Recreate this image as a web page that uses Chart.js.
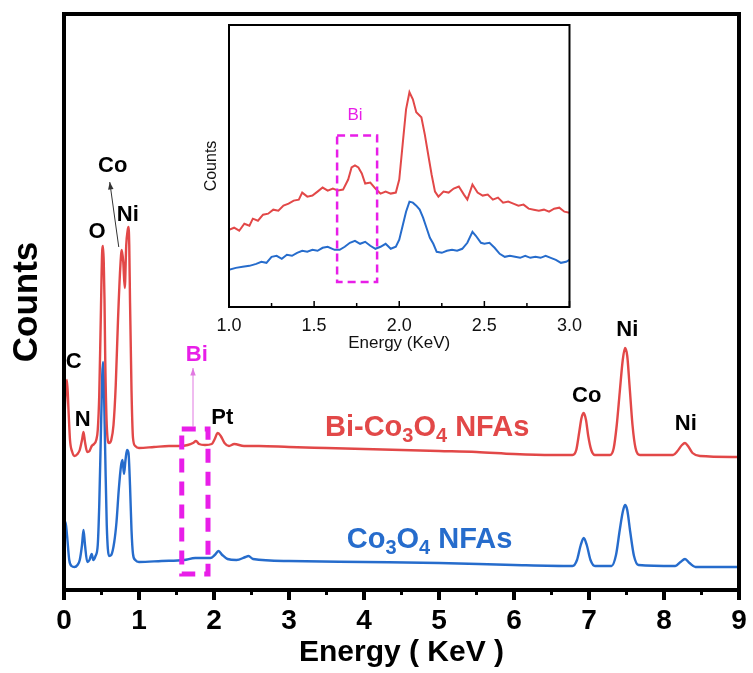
<!DOCTYPE html>
<html>
<head>
<meta charset="utf-8">
<script src="https://cdn.jsdelivr.net/npm/chart.js@4.4.0/dist/chart.umd.min.js"></script>
<style>
  body { margin: 0; background: #fff; }
  #wrap { position: relative; width: 753px; height: 673px; }
  #mainChart { position: absolute; left: 0; top: 0; }
  #insetChart { position: absolute; left: 190px; top: 0; }
</style>
</head>
<body>
<div id="wrap">
  <canvas id="mainChart" width="753" height="673"></canvas>
  <canvas id="insetChart" width="400" height="370"></canvas>
</div>
<script>
// ---- main spectrum (0-9 keV), counts in arbitrary units ----
const energyRed = [0.00,0.02,0.04,0.06,0.08,0.11,0.14,0.18,0.21,0.24,0.26,0.28,0.31,0.34,0.37,0.40,0.43,0.45,0.47,0.49,
  0.51,0.52,0.53,0.54,0.55,0.57,0.60,0.63,0.66,0.69,0.72,0.75,0.77,0.79,0.81,0.83,0.85,0.86,0.87,0.88,
  0.90,0.92,0.95,1.00,1.20,1.40,1.55,1.65,1.72,1.76,1.80,1.88,1.97,2.01,2.05,2.09,2.14,2.20,2.27,2.40,
  2.60,3.00,3.50,4.00,4.50,5.00,5.50,6.00,6.50,6.78,6.83,6.87,6.90,6.93,6.96,6.99,7.03,7.08,7.28,7.33,
  7.37,7.41,7.45,7.48,7.51,7.54,7.58,7.62,7.68,8.12,8.18,8.24,8.28,8.32,8.38,8.48,9.00];
const countsRed = [160,195,210,180,150,138,134,136,140,150,158,148,138,139,144,146,150,160,195,270,
  340,344,328,290,230,165,147,150,165,205,270,322,340,328,302,345,360,363,345,290,
  200,152,144,142,143,144,144,145,147,149,146,145,146,151,157,154,147,144,146,144,
  144,143,142,141,140,139,138,136,135,135,140,158,172,177,170,154,140,135,135,142,
  165,198,230,242,234,205,165,142,135,135,139,145,147,144,137,134,133];

const energyBlue = [0.00,0.02,0.04,0.07,0.10,0.14,0.18,0.21,0.24,0.26,0.28,0.31,0.34,0.37,0.39,0.42,0.45,0.47,0.49,0.51,
  0.52,0.53,0.55,0.57,0.60,0.63,0.67,0.70,0.73,0.76,0.78,0.80,0.82,0.84,0.86,0.88,0.90,0.92,0.95,1.00,
  1.30,1.60,1.75,1.95,2.01,2.06,2.11,2.18,2.30,2.42,2.46,2.52,3.00,4.00,5.00,6.00,6.78,6.84,6.89,6.93,
  6.97,7.02,7.08,7.30,7.36,7.41,7.45,7.48,7.51,7.55,7.60,7.66,8.15,8.22,8.28,8.34,8.42,9.00];
const countsBlue = [45,68,55,30,24,23,25,30,45,60,45,28,30,36,30,34,45,85,150,215,
  228,212,135,65,34,35,48,68,100,124,130,116,130,140,137,105,60,36,30,28,
  29,30,32,32,35,39,35,31,30,33,34,31,29,28,27,25,24,30,45,52,
  45,30,24,24,35,60,78,85,80,58,34,25,24,28,31,27,23,23];

const xTicks = [0, 1, 2, 3, 4, 5, 6, 7, 8, 9];

// peak labels (energy, counts)
const peakLabels = ['C', 'N', 'O', 'Co', 'Ni', 'Pt', 'Co', 'Ni', 'Ni'];
const peakLabelX = [0.13, 0.25, 0.44, 0.65, 0.85, 2.11, 6.97, 7.51, 8.29];
const peakLabelY = [228, 170, 358, 424, 375, 172, 194, 260, 166];

// ---- inset (1-3 keV) ----
const insetEnergyRed = [1.00,1.03,1.06,1.09,1.12,1.14,1.17,1.20,1.23,1.26,1.29,1.32,1.35,1.38,1.41,1.43,1.46,1.49,1.52,1.55,
  1.58,1.61,1.64,1.67,1.70,1.72,1.74,1.76,1.78,1.80,1.83,1.86,1.89,1.92,1.95,1.98,2.00,2.02,2.04,2.06,
  2.08,2.10,2.13,2.15,2.17,2.19,2.21,2.23,2.26,2.29,2.32,2.35,2.38,2.40,2.43,2.46,2.49,2.52,2.55,2.58,
  2.61,2.64,2.67,2.70,2.73,2.76,2.79,2.82,2.85,2.88,2.91,2.94,2.97,3.00];
const insetCountsRed = [77,79,76,83,81,88,86,92,93,97,96,101,103,106,107,114,110,111,115,119,
  116,118,116,117,127,139,141,139,133,123,124,118,113,115,113,114,127,162,197,214,
  207,194,189,172,152,132,115,110,115,114,118,120,112,107,122,114,111,112,107,109,
  104,105,103,101,102,98,97,96,97,95,98,99,95,94];

const insetEnergyBlue = [1.00,1.04,1.08,1.12,1.16,1.19,1.22,1.25,1.28,1.31,1.34,1.37,1.40,1.43,1.46,1.49,1.52,1.55,1.58,1.62,
  1.65,1.68,1.71,1.74,1.77,1.80,1.83,1.86,1.89,1.92,1.95,1.98,2.00,2.02,2.04,2.06,2.08,2.10,2.12,2.14,
  2.16,2.18,2.20,2.22,2.25,2.28,2.31,2.34,2.37,2.40,2.43,2.45,2.48,2.50,2.53,2.56,2.59,2.62,2.65,2.68,
  2.71,2.74,2.77,2.80,2.83,2.86,2.89,2.92,2.95,2.98,3.00];
const insetCountsBlue = [37,39,40,41,43,45,44,50,51,48,52,51,54,56,55,57,56,59,60,57,
  57,60,64,66,63,65,61,58,60,63,58,60,67,81,95,105,104,101,97,89,
  79,69,63,55,54,56,57,56,58,64,75,71,64,63,64,59,53,50,51,50,
  49,51,49,50,49,51,49,47,44,45,47];

const insetTicks = [1.0, 1.5, 2.0, 2.5, 3.0];

const RED = 'rgb(226,72,72)';
const BLUE = 'rgb(38,108,204)';
const MAGENTA = 'rgb(232,30,232)';
const FONT = '"Liberation Sans", Arial, Helvetica, sans-serif';

function toPoints(xs, ys) {
  return xs.map((x, i) => ({ x: x, y: ys[i] }));
}

function drawSubText(ctx, parts, x, y, size) {
  // parts: [text, isSub]
  let cx = x;
  parts.forEach(p => {
    if (p[1]) {
      ctx.font = 'bold ' + Math.round(size * 0.68) + 'px ' + FONT;
      ctx.fillText(p[0], cx, y + size * 0.22);
    } else {
      ctx.font = 'bold ' + size + 'px ' + FONT;
      ctx.fillText(p[0], cx, y);
    }
    cx += ctx.measureText(p[0]).width;
  });
}

function arrow(ctx, x1, y1, x2, y2, color, head) {
  ctx.strokeStyle = color;
  ctx.fillStyle = color;
  ctx.lineWidth = 1;
  ctx.beginPath();
  ctx.moveTo(x1, y1);
  ctx.lineTo(x2, y2);
  ctx.stroke();
  const a = Math.atan2(y2 - y1, x2 - x1);
  ctx.beginPath();
  ctx.moveTo(x2, y2);
  ctx.lineTo(x2 - head * Math.cos(a - 0.35), y2 - head * Math.sin(a - 0.35));
  ctx.lineTo(x2 - head * Math.cos(a + 0.35), y2 - head * Math.sin(a + 0.35));
  ctx.closePath();
  ctx.fill();
}

const mainDecor = {
  id: 'mainDecor',
  afterDatasetsDraw(chart) {
    const ctx = chart.ctx;
    const xs = chart.scales.x, ys = chart.scales.y;
    const area = chart.chartArea;
    ctx.save();

    // minor ticks at half keV
    ctx.fillStyle = '#000';
    for (let v = 0.5; v < 9; v += 1) {
      const px = xs.getPixelForValue(v);
      ctx.fillRect(px - 1.5, area.bottom + 2, 3, 3);
    }

    // dashed box around Bi
    ctx.strokeStyle = MAGENTA;
    ctx.lineWidth = 5;
    ctx.setLineDash([14, 9]);
    const bx1 = xs.getPixelForValue(1.57), bx2 = xs.getPixelForValue(1.92);
    const by1 = ys.getPixelForValue(161), by2 = ys.getPixelForValue(16);
    ctx.strokeRect(bx1, by1, bx2 - bx1, by2 - by1);
    ctx.setLineDash([]);

    // arrows
    arrow(ctx, xs.getPixelForValue(0.73), ys.getPixelForValue(343),
      xs.getPixelForValue(0.61), ys.getPixelForValue(408), '#333', 8);
    arrow(ctx, xs.getPixelForValue(1.72), ys.getPixelForValue(163),
      xs.getPixelForValue(1.72), ys.getPixelForValue(222), 'rgb(225,120,225)', 8);

    // peak labels
    ctx.textAlign = 'center';
    ctx.textBaseline = 'middle';
    ctx.font = 'bold 22px ' + FONT;
    ctx.fillStyle = '#000';
    peakLabels.forEach((t, i) => {
      ctx.fillText(t, xs.getPixelForValue(peakLabelX[i]), ys.getPixelForValue(peakLabelY[i]));
    });
    ctx.fillStyle = MAGENTA;
    ctx.fillText('Bi', xs.getPixelForValue(1.77), ys.getPixelForValue(235));

    // series names
    ctx.textAlign = 'left';
    ctx.textBaseline = 'alphabetic';
    ctx.fillStyle = RED;
    drawSubText(ctx, [['Bi-Co', 0], ['3', 1], ['O', 0], ['4', 1], [' NFAs', 0]],
      xs.getPixelForValue(3.48), ys.getPixelForValue(154), 29);
    ctx.fillStyle = BLUE;
    drawSubText(ctx, [['Co', 0], ['3', 1], ['O', 0], ['4', 1], [' NFAs', 0]],
      xs.getPixelForValue(3.77), ys.getPixelForValue(42), 29);

    // frame
    ctx.strokeStyle = '#000';
    ctx.lineWidth = 4;
    ctx.strokeRect(area.left, area.top, area.right - area.left, area.bottom - area.top);
    ctx.restore();
  }
};

new Chart(document.getElementById('mainChart'), {
  type: 'line',
  data: {
    datasets: [
      { label: 'Bi-Co3O4 NFAs', data: toPoints(energyRed, countsRed), borderColor: RED, borderWidth: 2.4, pointRadius: 0, cubicInterpolationMode: 'monotone' },
      { label: 'Co3O4 NFAs', data: toPoints(energyBlue, countsBlue), borderColor: BLUE, borderWidth: 2.4, pointRadius: 0, cubicInterpolationMode: 'monotone' }
    ]
  },
  options: {
    responsive: false,
    animation: false,
    layout: { padding: { top: 14, right: 14, left: 0, bottom: 0 } },
    plugins: { legend: { display: false }, tooltip: { enabled: false } },
    scales: {
      x: {
        type: 'linear', min: 0, max: 9,
        afterBuildTicks: (scale) => { scale.ticks = xTicks.map(v => ({ value: v })); },
        ticks: { font: { family: FONT, size: 28, weight: 'bold' }, color: '#000', padding: 4, maxRotation: 0 },
        grid: { drawOnChartArea: false, tickLength: 10, lineWidth: 4, color: '#000' },
        border: { display: false },
        title: { display: true, text: 'Energy ( KeV )', color: '#000', font: { family: FONT, size: 30, weight: 'bold' }, padding: { top: 0, bottom: 2 } },
        afterFit: (scale) => { scale.height = 83; }
      },
      y: {
        min: 0, max: 576,
        ticks: { display: false },
        grid: { display: false },
        border: { display: false },
        title: { display: true, text: 'Counts', color: '#000', font: { family: FONT, size: 35, weight: 'bold' }, padding: { top: 6, bottom: 0 } },
        afterFit: (scale) => { scale.width = 64; }
      }
    }
  },
  plugins: [mainDecor]
});

const insetDecor = {
  id: 'insetDecor',
  beforeDatasetsDraw(chart) {
    const ctx = chart.ctx, a = chart.chartArea;
    ctx.save();
    ctx.fillStyle = '#fff';
    ctx.fillRect(a.left, a.top, a.right - a.left, a.bottom - a.top);
    ctx.restore();
  },
  afterDatasetsDraw(chart) {
    const ctx = chart.ctx, a = chart.chartArea;
    const xs = chart.scales.x, ys = chart.scales.y;
    ctx.save();
    // inward ticks
    ctx.strokeStyle = '#000';
    ctx.lineWidth = 1.5;
    for (let v = 1.25; v < 3; v += 0.5) {
      const px = xs.getPixelForValue(v);
      ctx.beginPath(); ctx.moveTo(px, a.bottom); ctx.lineTo(px, a.bottom - 4); ctx.stroke();
    }
    insetTicks.forEach(v => {
      const px = xs.getPixelForValue(v);
      ctx.beginPath(); ctx.moveTo(px, a.bottom); ctx.lineTo(px, a.bottom - 6); ctx.stroke();
    });
    // dashed box
    ctx.strokeStyle = MAGENTA;
    ctx.lineWidth = 2.5;
    ctx.setLineDash([8, 5]);
    const bx1 = xs.getPixelForValue(1.635), bx2 = xs.getPixelForValue(1.87);
    const by1 = ys.getPixelForValue(171), by2 = ys.getPixelForValue(25);
    ctx.strokeRect(bx1, by1, bx2 - bx1, by2 - by1);
    ctx.setLineDash([]);
    ctx.fillStyle = MAGENTA;
    ctx.font = '17px ' + FONT;
    ctx.textAlign = 'center';
    ctx.textBaseline = 'middle';
    ctx.fillText('Bi', xs.getPixelForValue(1.74), ys.getPixelForValue(191));
    // frame
    ctx.strokeStyle = '#000';
    ctx.lineWidth = 2;
    ctx.strokeRect(a.left, a.top, a.right - a.left, a.bottom - a.top);
    ctx.restore();
  }
};

new Chart(document.getElementById('insetChart'), {
  type: 'line',
  data: {
    datasets: [
      { data: toPoints(insetEnergyRed, insetCountsRed), borderColor: RED, borderWidth: 2, pointRadius: 0, tension: 0 },
      { data: toPoints(insetEnergyBlue, insetCountsBlue), borderColor: BLUE, borderWidth: 2, pointRadius: 0, tension: 0 }
    ]
  },
  options: {
    responsive: false,
    animation: false,
    layout: { padding: { top: 25, right: 20, left: 0, bottom: 0 } },
    plugins: { legend: { display: false }, tooltip: { enabled: false } },
    scales: {
      x: {
        type: 'linear', min: 1, max: 3,
        afterBuildTicks: (scale) => { scale.ticks = insetTicks.map(v => ({ value: v })); },
        ticks: { font: { family: FONT, size: 18 }, color: '#111', padding: 8, maxRotation: 0, callback: v => v.toFixed(1) },
        grid: { display: false, drawTicks: false },
        border: { display: false },
        title: { display: true, text: 'Energy (KeV)', color: '#111', font: { family: FONT, size: 17 }, padding: { top: 0, bottom: 16 } },
        afterFit: (scale) => { scale.height = 63; }
      },
      y: {
        min: 0, max: 281,
        ticks: { display: false },
        grid: { display: false },
        border: { display: false },
        title: { display: true, text: 'Counts', color: '#111', font: { family: FONT, size: 16 }, padding: { top: 12, bottom: 0 } },
        afterFit: (scale) => { scale.width = 39; }
      }
    }
  },
  plugins: [insetDecor]
});
</script>
</body>
</html>
